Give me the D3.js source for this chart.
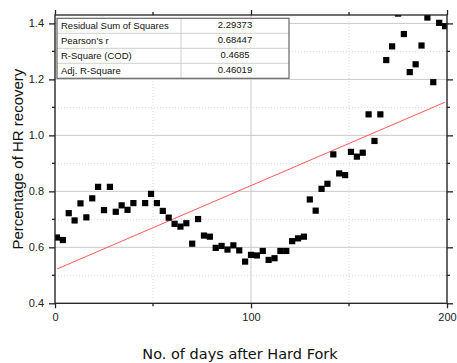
<!DOCTYPE html>
<html>
<head>
<meta charset="utf-8">
<script src="https://cdn.jsdelivr.net/npm/d3@7"></script>
<style>
  html, body { margin: 0; padding: 0; background: #fff; }
  svg { display: block; }
</style>
</head>
<body>
<script>
// Days after the hard fork (sampled every 3 days; day 43 absent)
const days = [1, 4, 7, 10, 13, 16, 19, 22, 25, 28, 31, 34, 37, 40, 46, 49, 52, 55, 58, 61,
  64, 67, 70, 73, 76, 79, 82, 85, 88, 91, 94, 97, 100, 103, 106, 109, 112, 115, 118, 121,
  124, 127, 130, 133, 136, 139, 142, 145, 148, 151, 154, 157, 160, 163, 166, 169, 172, 175,
  178, 181, 184, 187, 190, 193, 196, 199];
// Percentage of hash-rate recovery
const recovery = [0.635, 0.626, 0.722, 0.696, 0.757, 0.707, 0.775, 0.816, 0.733, 0.816,
  0.727, 0.750, 0.734, 0.758, 0.758, 0.791, 0.758, 0.730, 0.706, 0.684,
  0.674, 0.686, 0.613, 0.701, 0.642, 0.638, 0.598, 0.605, 0.592, 0.607,
  0.589, 0.549, 0.573, 0.571, 0.587, 0.555, 0.561, 0.587, 0.587, 0.622,
  0.632, 0.638, 0.771, 0.731, 0.809, 0.827, 0.932, 0.864, 0.858, 0.941,
  0.924, 0.938, 1.075, 0.980, 1.075, 1.269, 1.318, 1.435, 1.362, 1.226,
  1.254, 1.321, 1.421, 1.190, 1.402, 1.390];

// Linear fit
const fitIntercept = 0.5195;
const fitSlope = 0.00301;
const fitRange = [1, 199];

// Fit statistics table
const statNames = ["Residual Sum of Squares", "Pearson's r", "R-Square (COD)", "Adj. R-Square"];
const statValues = ["2.29373", "0.68447", "0.4685", "0.46019"];

// Axis ticks
const xMajorTicks = [0, 100, 200];
const xMinorTicks = [50, 150];
const yMajorTicks = [0.4, 0.6, 0.8, 1.0, 1.2, 1.4];
const yMinorTicks = [0.5, 0.7, 0.9, 1.1, 1.3];

const W = 457, H = 363;
const plot = { left: 55, right: 447, top: 15, bottom: 303.3 };

const svg = d3.select("body").append("svg").attr("width", W).attr("height", H);

const x = d3.scaleLinear().domain([0, 200]).range([plot.left, plot.right]);
const y = d3.scaleLinear().domain([0.4, 1.43]).range([plot.bottom, plot.top]);

svg.append("defs").append("clipPath").attr("id", "plotClip")
  .append("rect")
  .attr("x", plot.left).attr("y", plot.top)
  .attr("width", plot.right - plot.left).attr("height", plot.bottom - plot.top);

// Grid lines
const grid = svg.append("g");
grid.selectAll(".gx").data(xMajorTicks).join("line")
  .attr("x1", d => x(d)).attr("x2", d => x(d))
  .attr("y1", plot.top).attr("y2", plot.bottom)
  .attr("stroke", "#c9c9c9").attr("stroke-width", 1);
grid.selectAll(".gxm").data(xMinorTicks).join("line")
  .attr("x1", d => x(d)).attr("x2", d => x(d))
  .attr("y1", plot.top).attr("y2", plot.bottom)
  .attr("stroke", "#d8d8d8").attr("stroke-width", 1).attr("stroke-dasharray", "1,2");
grid.selectAll(".gy").data(yMajorTicks).join("line")
  .attr("y1", d => y(d)).attr("y2", d => y(d))
  .attr("x1", plot.left).attr("x2", plot.right)
  .attr("stroke", "#c9c9c9").attr("stroke-width", 1);
grid.selectAll(".gym").data(yMinorTicks).join("line")
  .attr("y1", d => y(d)).attr("y2", d => y(d))
  .attr("x1", plot.left).attr("x2", plot.right)
  .attr("stroke", "#d8d8d8").attr("stroke-width", 1).attr("stroke-dasharray", "1,2");

// Fit line
const clipped = svg.append("g").attr("clip-path", "url(#plotClip)");
clipped.append("line")
  .attr("x1", x(fitRange[0])).attr("y1", y(fitIntercept + fitSlope * fitRange[0]))
  .attr("x2", x(fitRange[1])).attr("y2", y(fitIntercept + fitSlope * fitRange[1]))
  .attr("stroke", "#ff5a5a").attr("stroke-width", 1);

// Data markers
const pts = days.map((d, i) => ({ d, v: recovery[i] }));
const ms = 6.2;
clipped.selectAll("rect.pt").data(pts).join("rect")
  .attr("class", "pt")
  .attr("x", p => x(p.d) - ms / 2).attr("y", p => y(p.v) - ms / 2)
  .attr("width", ms).attr("height", ms)
  .attr("fill", "#000");

// Axes
const axisColor = "#222";
function styleAxis(g) {
  g.selectAll("path").attr("stroke", axisColor).attr("stroke-width", 1.3);
  g.selectAll("line").attr("stroke", axisColor).attr("stroke-width", 1.3);
  g.selectAll("text").attr("fill", "#222")
    .style("font-family", "'Liberation Sans', Arial, sans-serif").style("font-size", "11px");
}

const axBottom = svg.append("g").attr("transform", `translate(0,${plot.bottom})`)
  .call(d3.axisBottom(x).tickValues(xMajorTicks).tickSize(5).tickSizeOuter(0).tickPadding(5).tickFormat(d3.format("d")));
axBottom.append("g").selectAll("line").data(xMinorTicks).join("line")
  .attr("x1", d => x(d)).attr("x2", d => x(d)).attr("y1", 0).attr("y2", 3);
styleAxis(axBottom);

const axTop = svg.append("g").attr("transform", `translate(0,${plot.top})`)
  .call(d3.axisTop(x).tickValues(xMajorTicks).tickSize(5).tickSizeOuter(0).tickFormat(""));
axTop.append("g").selectAll("line").data(xMinorTicks).join("line")
  .attr("x1", d => x(d)).attr("x2", d => x(d)).attr("y1", 0).attr("y2", -3);
styleAxis(axTop);

const axLeft = svg.append("g").attr("transform", `translate(${plot.left},0)`)
  .call(d3.axisLeft(y).tickValues(yMajorTicks).tickSize(6).tickSizeOuter(0).tickPadding(5).tickFormat(d3.format(".1f")));
axLeft.append("g").selectAll("line").data(yMinorTicks).join("line")
  .attr("y1", d => y(d)).attr("y2", d => y(d)).attr("x1", 0).attr("x2", -3);
styleAxis(axLeft);

const axRight = svg.append("g").attr("transform", `translate(${plot.right},0)`)
  .call(d3.axisRight(y).tickValues(yMajorTicks).tickSize(6).tickSizeOuter(0).tickFormat(""));
axRight.append("g").selectAll("line").data(yMinorTicks).join("line")
  .attr("y1", d => y(d)).attr("y2", d => y(d)).attr("x1", 0).attr("x2", 3);
styleAxis(axRight);

// Full plot frame in place of the axis domain paths
[axBottom, axTop, axLeft, axRight].forEach(g => g.select("path.domain").remove());
svg.append("rect")
  .attr("x", plot.left).attr("y", plot.top)
  .attr("width", plot.right - plot.left).attr("height", plot.bottom - plot.top)
  .attr("fill", "none").attr("stroke", axisColor).attr("stroke-width", 1.3);

// Statistics table
const tbl = { x: 57, y: 18.3, w: 232, rowH: 15, split: 181, valCenter: 235 };
const tg = svg.append("g");
tg.append("rect")
  .attr("x", tbl.x).attr("y", tbl.y)
  .attr("width", tbl.w).attr("height", tbl.rowH * statNames.length)
  .attr("fill", "#fff");
tg.selectAll("line.row").data(d3.range(1, statNames.length)).join("line")
  .attr("x1", tbl.x).attr("x2", tbl.x + tbl.w)
  .attr("y1", i => tbl.y + i * tbl.rowH).attr("y2", i => tbl.y + i * tbl.rowH)
  .attr("stroke", "#cfcfcf").attr("stroke-width", 1);
tg.append("line")
  .attr("x1", tbl.split).attr("x2", tbl.split)
  .attr("y1", tbl.y).attr("y2", tbl.y + tbl.rowH * statNames.length)
  .attr("stroke", "#cfcfcf").attr("stroke-width", 1);
tg.append("rect")
  .attr("x", tbl.x).attr("y", tbl.y)
  .attr("width", tbl.w).attr("height", tbl.rowH * statNames.length)
  .attr("fill", "none").attr("stroke", "#666").attr("stroke-width", 1.2);
tg.selectAll("text.name").data(statNames).join("text")
  .attr("x", tbl.x + 4).attr("y", (d, i) => tbl.y + i * tbl.rowH + tbl.rowH / 2)
  .attr("dy", "0.35em")
  .style("font-family", "'Liberation Sans', Arial, sans-serif").style("font-size", "9.5px")
  .attr("fill", "#111").text(d => d);
tg.selectAll("text.val").data(statValues).join("text")
  .attr("x", tbl.valCenter).attr("y", (d, i) => tbl.y + i * tbl.rowH + tbl.rowH / 2 - 1)
  .attr("dy", "0.35em").attr("text-anchor", "middle")
  .style("font-family", "'Liberation Sans', Arial, sans-serif").style("font-size", "9.5px")
  .attr("fill", "#111").text(d => d);

// Axis titles
svg.append("text")
  .attr("transform", `translate(22.5,${(plot.top + plot.bottom) / 2}) rotate(-90)`)
  .attr("text-anchor", "middle")
  .style("font-family", "'Liberation Sans', Arial, sans-serif").style("font-size", "15px")
  .attr("fill", "#111")
  .text("Percentage of HR recovery");

svg.append("text")
  .attr("x", 240).attr("y", 358.5)
  .attr("text-anchor", "middle")
  .style("font-family", "'DejaVu Sans', Verdana, sans-serif").style("font-size", "14.5px")
  .attr("fill", "#111")
  .text("No. of days after Hard Fork");
</script>
</body>
</html>
